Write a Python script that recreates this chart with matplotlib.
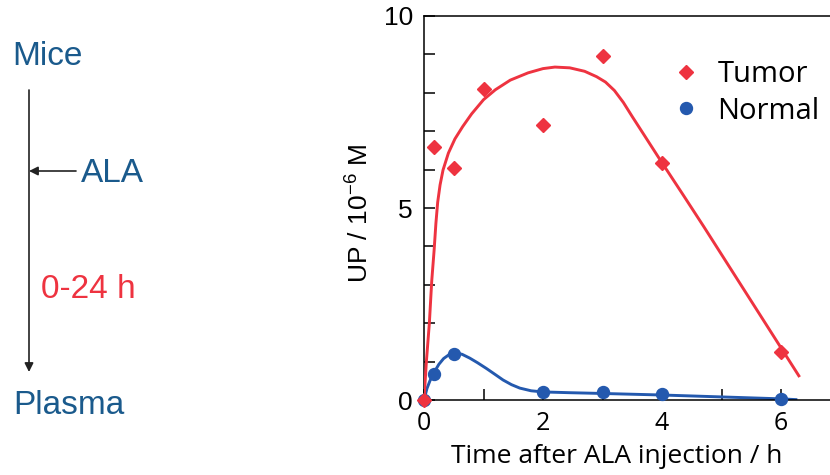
import matplotlib.pyplot as plt
from matplotlib.lines import Line2D

RED = "#EE3340"
BLUE = "#2459AE"
TEXT_BLUE = "#1A5A8C"

# measured points
tumor_t = [0, 0.16, 0.5, 1, 2, 3, 4, 6]
tumor_v = [0, 6.58, 6.04, 8.1, 7.16, 8.96, 6.18, 1.25]
normal_t = [0, 0.16, 0.5, 2, 3, 4, 6]
normal_v = [0, 0.69, 1.2, 0.2, 0.2, 0.16, 0.02]

# fitted curves
tumor_fit_t = [0, 0.04, 0.09, 0.13, 0.17, 0.2, 0.23, 0.27, 0.32, 0.41, 0.52, 0.65, 0.8,
               1.0, 1.2, 1.45, 1.75, 2.0, 2.2, 2.45, 2.7, 2.9, 3.05, 3.2, 3.35, 3.5,
               3.7, 3.97, 4.36, 4.7, 6.3]
tumor_fit_v = [0, 1.0, 2.0, 3.1, 3.9, 4.6, 5.15, 5.6, 5.99, 6.43, 6.8, 7.12, 7.45,
               7.82, 8.08, 8.33, 8.52, 8.63, 8.67, 8.65, 8.56, 8.42, 8.28, 8.06, 7.75, 7.38,
               6.9, 6.25, 5.33, 4.52, 0.63]
normal_fit_t = [0, 0.05, 0.1, 0.17, 0.25, 0.33, 0.42, 0.52, 0.64, 0.77, 0.9, 1.05, 1.2,
                1.33, 1.47, 1.61, 1.8, 2.0, 2.45, 3.0, 4.0, 5.0, 6.0, 6.25]
normal_fit_v = [0, 0.3, 0.5, 0.72, 0.93, 1.08, 1.18, 1.23, 1.19, 1.09, 0.97, 0.82, 0.66,
                0.52, 0.4, 0.31, 0.24, 0.21, 0.19, 0.17, 0.13, 0.08, 0.03, 0.01]

x_ticks = [0, 2, 4, 6]
y_ticks = [0, 5, 10]

W, H = 830, 475
fig = plt.figure(figsize=(W / 100, H / 100), dpi=100)

# left scheme: drawn in pixel coordinates
ov = fig.add_axes([0, 0, 1, 1])
ov.set_xlim(0, W)
ov.set_ylim(H, 0)
ov.axis("off")
sch = dict(family="Liberation Sans", fontsize=24, va="baseline", ha="left")
ov.text(12, 65, "Mice", color=TEXT_BLUE, **sch)
ov.text(81, 182, "ALA", color=TEXT_BLUE, **sch)
ov.text(41, 298, "0-24 h", color=RED, **sch)
ov.text(13, 414, "Plasma", color=TEXT_BLUE, **sch)
arr = dict(arrowstyle="-|>", color="#222222", lw=1.2, mutation_scale=13, shrinkA=0, shrinkB=0)
ov.annotate("", xy=(29, 372), xytext=(29, 90), arrowprops=arr)
ov.annotate("", xy=(29, 171), xytext=(76, 171), arrowprops=arr)

# kinetics plot
ax = fig.add_axes([424 / W, (H - 400) / H, (W - 424) / W, 384 / H])
ax.plot(normal_fit_t, normal_fit_v, color=BLUE, lw=2.1, zorder=2)
ax.plot(normal_t, normal_v, "o", color=BLUE, ms=8.6, clip_on=False, zorder=3)
ax.plot(tumor_fit_t, tumor_fit_v, color=RED, lw=2.1, zorder=4)
ax.plot(tumor_t, tumor_v, "D", color=RED, ms=6.8, clip_on=False, zorder=5)

ax.set_xlim(0, (W - 424) / 59.5)
ax.set_ylim(0, 10)
ax.spines["right"].set_visible(False)
for s in ["left", "bottom", "top"]:
    ax.spines[s].set_linewidth(1.1)

ax.set_xticks(range(0, 7))
ax.set_xticklabels([str(t) if t in x_ticks else "" for t in range(0, 7)])
ax.set_yticks(range(0, 11))
ax.set_yticklabels([str(v) if v in y_ticks else "" for v in range(0, 11)])
ax.tick_params(direction="in", length=8, width=1.1)
ax.tick_params(axis="y", pad=8)
ax.tick_params(axis="x", pad=8)
for lab in ax.get_xticklabels():
    lab.set_fontfamily("Open Sans")
    lab.set_fontsize(18)
for lab in ax.get_yticklabels():
    lab.set_fontfamily("Liberation Sans")
    lab.set_fontsize(19)

ax.set_xlabel("Time after ALA injection / h", family="Open Sans", fontsize=19, va="center")
ax.xaxis.set_label_coords(0.475, -0.148)
ax.set_ylabel("UP / 10$^{\\mathregular{-6}}$ M", family="Liberation Sans", fontsize=19,
              va="center")
ax.yaxis.set_label_coords(-0.160, 0.485)

handles = [
    Line2D([], [], marker="D", color=RED, ls="none", ms=6.8),
    Line2D([], [], marker="o", color=BLUE, ls="none", ms=8.6),
]
ax.legend(handles, ["Tumor", "Normal"], loc="upper left", bbox_to_anchor=(0.61, 0.886),
          frameon=False, prop={"family": "Open Sans", "size": 21}, handlelength=1,
          handletextpad=0.57, labelspacing=0.27, borderpad=0, borderaxespad=0)

fig.savefig("out.png", dpi=100)
